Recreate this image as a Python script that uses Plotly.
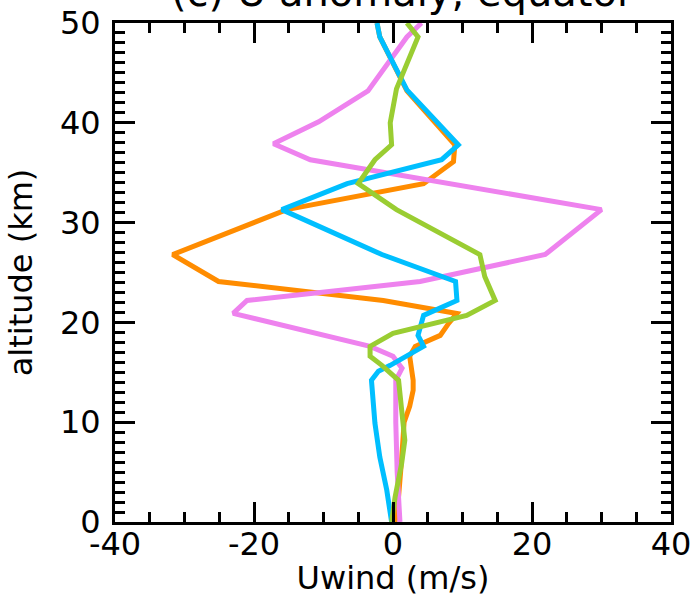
import plotly.graph_objects as go

# Orange series
orange_u = [0.3, 0.8, 1.2, 1.4, 1.6, 2.4, 2.9, 2.9, 2.4, 3.2, 6.8, 8.0, 9.2, -1.4, -25.1, -31.7, -15.3, 4.4, 8.7, 8.9, 2.0, -1.9, -2.3]
orange_z = [0.0, 2.5, 5.9, 8.2, 10.0, 11.6, 13.2, 14.2, 16.6, 17.6, 18.7, 19.9, 20.9, 22.2, 24.1, 26.8, 31.3, 33.9, 36.1, 37.8, 43.2, 48.6, 50.0]

# Violet series
violet_u = [1.0, 0.6, 0.4, 0.4, 1.3, 0.0, -3.3, -23.0, -21.0, 3.9, 21.9, 30.0, -11.9, -17.2, -10.7, -3.6, 2.0, 4.1]
violet_z = [0.0, 5.0, 10.0, 14.2, 15.4, 16.6, 17.6, 20.9, 22.2, 24.1, 26.8, 31.3, 36.3, 37.9, 40.1, 43.2, 48.6, 50.0]

# Sky-blue series
blue_u = [-0.2, -0.9, -1.9, -2.6, -3.1, -2.1, -0.4, 4.4, 3.6, 4.4, 9.2, 9.0, -1.6, -16.0, -6.6, 7.0, 9.4, 2.0, -1.9, -2.3]
blue_z = [0.0, 3.2, 6.5, 9.9, 14.2, 15.1, 15.7, 17.6, 18.7, 20.7, 22.2, 24.1, 26.8, 31.3, 33.9, 36.3, 37.8, 43.3, 48.6, 50.0]

# Green series
green_u = [-0.2, 0.3, 1.25, 1.7, 1.25, 0.8, -1.6, -3.3, -3.3, 0.0, 10.6, 14.7, 13.2, 12.5, 0.5, -5.0, -2.6, -0.2, -0.4, 0.5, 3.6, 2.0]
green_z = [0.0, 2.5, 5.9, 8.2, 11.2, 14.2, 15.7, 16.6, 17.6, 18.9, 20.7, 22.2, 24.6, 26.8, 31.3, 33.9, 36.3, 37.8, 40.0, 43.4, 48.6, 50.0]

x_ticks = [-40, -20, 0, 20, 40]
y_ticks = [0, 10, 20, 30, 40, 50]

series = [
    ("orange", orange_u, orange_z, "#FF8C00"),
    ("violet", violet_u, violet_z, "#EE82EE"),
    ("blue", blue_u, blue_z, "#00BFFF"),
    ("green", green_u, green_z, "#9ACD32"),
]

fig = go.Figure()
for name, u, z, c in series:
    fig.add_trace(go.Scatter(x=u, y=z, mode="lines", name=name,
                             line=dict(color=c, width=5), showlegend=False))

font = dict(family="DejaVu Sans", size=32, color="black")
axis_common = dict(
    showline=True, linecolor="black", linewidth=3, mirror="allticks",
    ticks="inside", ticklen=20, tickwidth=2.5, tickcolor="black",
    showgrid=False, zeroline=False, tickfont=font, automargin=False,
)
fig.update_xaxes(range=[-40, 40], tickvals=x_ticks, ticktext=[str(v) for v in x_ticks],
                 ticklabelstandoff=-8,
                 minor=dict(ticks="inside", ticklen=10, tickwidth=2.5, tickcolor="black", dtick=5, showgrid=False),
                 title=dict(text="Uwind (m/s)", font=font, standoff=2), **axis_common)
fig.update_yaxes(range=[0, 50], tickvals=y_ticks, ticktext=[str(v) for v in y_ticks],
                 ticklabelstandoff=5,
                 minor=dict(ticks="inside", ticklen=10, tickwidth=2.5, tickcolor="black", dtick=1, showgrid=False),
                 title=dict(text="altitude (km)", font=font, standoff=18), **axis_common)

fig.add_annotation(text="(c) U anomaly, equator", xref="paper", yref="paper",
                   x=0.5163, y=1.062, xanchor="center", yanchor="middle", showarrow=False,
                   font=dict(family="DejaVu Sans", size=40, color="black"))

fig.update_layout(width=696, height=597, margin=dict(l=115, r=25, t=23, b=75),
                  plot_bgcolor="white", paper_bgcolor="white")
fig.write_html("out.html", config={"displayModeBar": False},
               post_script="document.body.style.margin='0';")
